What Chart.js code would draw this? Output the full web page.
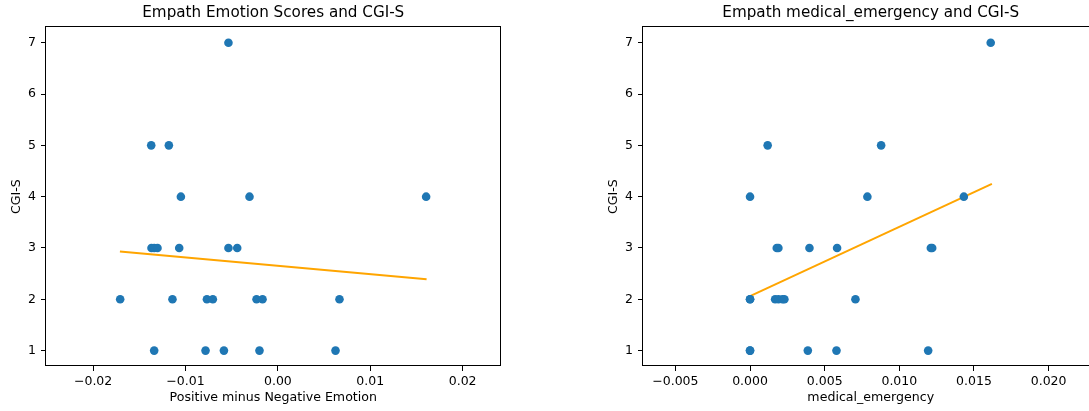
<!DOCTYPE html>
<html>
<head>
<meta charset="utf-8">
<script src="https://cdn.jsdelivr.net/npm/chart.js@4/dist/chart.umd.min.js"></script>
<style>
  html, body { margin: 0; padding: 0; background: #fff; }
  #wrap { position: relative; width: 1089px; height: 411px; overflow: hidden; background: #fff; }
  canvas { position: absolute; top: 0; }
  #emotionChart { left: 0; }
  #medicalChart { left: 597px; }
</style>
</head>
<body>
<div id="wrap">
  <canvas id="emotionChart" width="510" height="411"></canvas>
  <canvas id="medicalChart" width="511" height="411"></canvas>
</div>
<script>
// Data
const cgiS = [7, 5, 5, 4, 4, 4, 3, 3, 3, 3, 3, 3, 2, 2, 2, 2, 2, 2, 2, 1, 1, 1, 1, 1];

const emotionX = [
    -0.00535,
    -0.01371, -0.01180,
    -0.01050, -0.00307, 0.01605,
    -0.01368, -0.01339, -0.01303, -0.01068, -0.00535, -0.00440,
    -0.01707, -0.01141, -0.00768, -0.00704, -0.00231, -0.00166, 0.00667,
    -0.01339, -0.00783, -0.00584, -0.00199, 0.00624
];
const emotionTrendX = [-0.0171, 0.0161];
const emotionTrendY = [2.93, 2.39];

const medicalCgiS = [7, 5, 5, 4, 4, 4, 3, 3, 3, 3, 3, 3, 2, 2, 2, 2, 2, 2, 2, 1, 1, 1, 1, 1];
const medicalX = [
    0.01612,
    0.00118, 0.00878,
    0.0, 0.00786, 0.01432,
    0.00179, 0.00190, 0.00398, 0.00583, 0.01211, 0.01220,
    0.0, 0.0, 0.00168, 0.00190, 0.00217, 0.00230, 0.00706,
    0.0, 0.0, 0.00387, 0.00579, 0.01193
];
const medicalTrendX = [0.0, 0.0162];
const medicalTrendY = [2.06, 4.25];

const yTicks = [1, 2, 3, 4, 5, 6, 7];
const emotionXTicks = [-0.02, -0.01, 0.0, 0.01, 0.02];
const emotionXLabels = ['\u22120.02', '\u22120.01', '0.00', '0.01', '0.02'];
const medicalXTicks = [-0.005, 0.0, 0.005, 0.010, 0.015, 0.020];
const medicalXLabels = ['\u22120.005', '0.000', '0.005', '0.010', '0.015', '0.020'];

const FONT = "'DejaVu Sans', sans-serif";

// matplotlib-style full frame round the plot area
const framePlugin = {
    id: 'frame',
    afterDatasetsDraw(chart) {
        const { ctx, chartArea: a } = chart;
        ctx.save();
        ctx.strokeStyle = '#000';
        ctx.lineWidth = 1;
        const l = Math.round(a.left) - 0.5, t = Math.round(a.top) - 0.5;
        const r = Math.round(a.right) - 0.5, b = Math.round(a.bottom) - 0.5;
        ctx.strokeRect(l, t, r - l, b - t);
        ctx.restore();
    }
};

function toPoints(xs, ys) {
    return xs.map((x, i) => ({ x: x, y: ys[i] }));
}

function makeChart(id, title, xLabel, xs, ys, trendX, trendY, xMin, xMax, xTicks, xLabels) {
    new Chart(document.getElementById(id), {
        type: 'scatter',
        data: {
            datasets: [
                {
                    data: toPoints(xs, ys),
                    backgroundColor: '#1f77b4',
                    borderWidth: 0,
                    pointRadius: 4.3,
                    pointHoverRadius: 4.3
                },
                {
                    data: toPoints(trendX, trendY),
                    showLine: true,
                    borderColor: 'orange',
                    borderWidth: 2,
                    pointRadius: 0,
                    pointHoverRadius: 0
                }
            ]
        },
        options: {
            responsive: false,
            animation: false,
            devicePixelRatio: 1,
            layout: { padding: { left: 0, right: 9.5, top: 0, bottom: 0 } },
            scales: {
                x: {
                    type: 'linear',
                    min: xMin,
                    max: xMax,
                    afterBuildTicks: s => { s.ticks = xTicks.map(v => ({ value: v })); },
                    afterFit: s => { s.height = 45; },
                    ticks: {
                        color: '#000',
                        font: { family: FONT, size: 12.5 },
                        padding: 3,
                        maxRotation: 0,
                        autoSkip: false,
                        callback: (v, i) => xLabels[i]
                    },
                    grid: { drawOnChartArea: false, drawTicks: true, tickLength: 5, color: '#000' },
                    border: { display: false },
                    title: {
                        display: true,
                        text: xLabel,
                        color: '#000',
                        font: { family: FONT, size: 12.6 },
                        padding: { top: 0, bottom: 5.5 }
                    }
                },
                y: {
                    type: 'linear',
                    min: 0.7,
                    max: 7.3,
                    afterBuildTicks: s => { s.ticks = yTicks.map(v => ({ value: v })); },
                    afterFit: s => { s.width = 46; },
                    ticks: {
                        color: '#000',
                        font: { family: FONT, size: 12.5 },
                        padding: 5,
                        autoSkip: false,
                        callback: v => String(v)
                    },
                    grid: { drawOnChartArea: false, drawTicks: true, tickLength: 5, color: '#000' },
                    border: { display: false },
                    title: {
                        display: true,
                        text: 'CGI-S',
                        color: '#000',
                        font: { family: FONT, size: 12.6 },
                        padding: { top: 9, bottom: 0 }
                    }
                }
            },
            plugins: {
                legend: { display: false },
                tooltip: { enabled: false },
                title: {
                    display: true,
                    fullSize: false,
                    text: title,
                    color: '#000',
                    font: { family: FONT, size: 15.2, weight: 'normal' },
                    padding: { top: 4, bottom: 5.1 }
                }
            }
        },
        plugins: [framePlugin]
    });
}

makeChart('emotionChart', 'Empath Emotion Scores and CGI-S', 'Positive minus Negative Emotion',
    emotionX, cgiS, emotionTrendX, emotionTrendY, -0.0251, 0.0241, emotionXTicks, emotionXLabels);

makeChart('medicalChart', 'Empath medical_emergency and CGI-S', 'medical_emergency',
    medicalX, medicalCgiS, medicalTrendX, medicalTrendY, -0.00717, 0.02334, medicalXTicks, medicalXLabels);
</script>
</body>
</html>
